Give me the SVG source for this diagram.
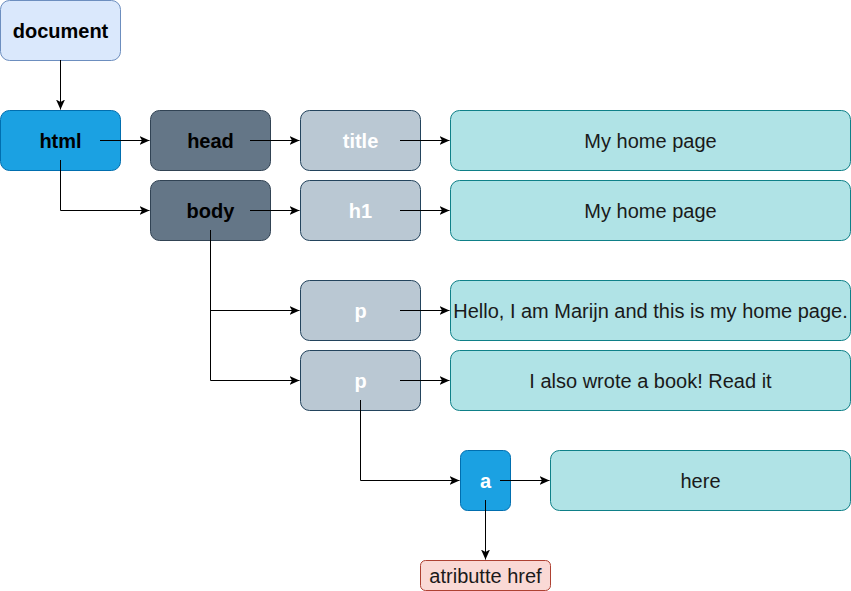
<svg xmlns="http://www.w3.org/2000/svg" width="851" height="591" viewBox="0 0 851 591">
<defs>
<style>
.lbl{font-family:"Liberation Sans",Arial,sans-serif;font-size:20px;font-weight:bold;text-anchor:middle;dominant-baseline:central}
.txt{font-family:"Liberation Sans",Arial,sans-serif;font-size:20px;text-anchor:middle;dominant-baseline:central;fill:#1a1a1a}
.doc{fill:#dae8fc;stroke:#6c8ebf}
.blue{fill:#1ba1e2;stroke:#006eaf}
.dark{fill:#647687;stroke:#314354}
.light{fill:#bac8d3;stroke:#23445d}
.teal{fill:#b0e3e6;stroke:#0e8088}
.red{fill:#fad9d5;stroke:#ae4132}
.edge{fill:none;stroke:#000;stroke-width:1;marker-end:url(#arr)}
</style>
<marker id="arr" viewBox="0 0 10 10" refX="10" refY="5" markerWidth="10" markerHeight="10" markerUnits="userSpaceOnUse" orient="auto">
<path d="M0,0.5 L10,5 L0,9.5 L2.5,5 Z" fill="#000"/>
</marker>
</defs>
<rect width="851" height="591" fill="#fff"/>
<g id="document"><rect class="doc" x="0.5" y="0.5" width="120" height="60" rx="9"/><text class="lbl" x="60.5" y="30.5" fill="#000">document</text></g>
<g id="html"><rect class="blue" x="0.5" y="110.5" width="120" height="60" rx="9"/><text class="lbl" x="60.5" y="140.5" fill="#000">html</text></g>
<g id="head"><rect class="dark" x="150.5" y="110.5" width="120" height="60" rx="9"/><text class="lbl" x="210.5" y="140.5" fill="#000">head</text></g>
<g id="body"><rect class="dark" x="150.5" y="180.5" width="120" height="60" rx="9"/><text class="lbl" x="210.5" y="210.5" fill="#000">body</text></g>
<g id="title"><rect class="light" x="300.5" y="110.5" width="120" height="60" rx="9"/><text class="lbl" x="360.5" y="140.5" fill="#fff">title</text></g>
<g id="h1"><rect class="light" x="300.5" y="180.5" width="120" height="60" rx="9"/><text class="lbl" x="360.5" y="210.5" fill="#fff">h1</text></g>
<g id="p1"><rect class="light" x="300.5" y="280.5" width="120" height="60" rx="9"/><text class="lbl" x="360.5" y="310.5" fill="#fff">p</text></g>
<g id="p2"><rect class="light" x="300.5" y="350.5" width="120" height="60" rx="9"/><text class="lbl" x="360.5" y="380.5" fill="#fff">p</text></g>
<g id="text-title"><rect class="teal" x="450.5" y="110.5" width="400" height="60" rx="9"/><text class="txt" x="650.5" y="140.5">My home page</text></g>
<g id="text-h1"><rect class="teal" x="450.5" y="180.5" width="400" height="60" rx="9"/><text class="txt" x="650.5" y="210.5">My home page</text></g>
<g id="text-p1"><rect class="teal" x="450.5" y="280.5" width="400" height="60" rx="9"/><text class="txt" x="650.5" y="310.5">Hello, I am Marijn and this is my home page.</text></g>
<g id="text-p2"><rect class="teal" x="450.5" y="350.5" width="400" height="60" rx="9"/><text class="txt" x="650.5" y="380.5">I also wrote a book! Read it</text></g>
<g id="a"><rect class="blue" x="460.5" y="450.5" width="50" height="60" rx="7"/><text class="lbl" x="485.5" y="480.5" fill="#fff">a</text></g>
<g id="text-here"><rect class="teal" x="550.5" y="450.5" width="300" height="60" rx="9"/><text class="txt" x="700.5" y="480.5">here</text></g>
<g id="href"><rect class="red" x="420.5" y="560.5" width="130" height="30" rx="5"/><text class="txt" x="485.5" y="575.5">atributte href</text></g>
<g id="connectors">
<path class="edge" d="M60.5,60 V109.5"/>
<path class="edge" d="M100,140.5 H149.5"/>
<path class="edge" d="M60.5,160 V210.5 H149.5"/>
<path class="edge" d="M250,140.5 H299.5"/>
<path class="edge" d="M250,210.5 H299.5"/>
<path class="edge" d="M400,140.5 H449.5"/>
<path class="edge" d="M400,210.5 H449.5"/>
<path class="edge" d="M210.5,230 V310.5 H299.5"/>
<path class="edge" d="M210.5,230 V380.5 H299.5"/>
<path class="edge" d="M400,310.5 H449.5"/>
<path class="edge" d="M400,380.5 H449.5"/>
<path class="edge" d="M360.5,400 V480.5 H459.5"/>
<path class="edge" d="M500,480.5 H549.5"/>
<path class="edge" d="M485.5,500 V559.5"/>
</g>
</svg>
